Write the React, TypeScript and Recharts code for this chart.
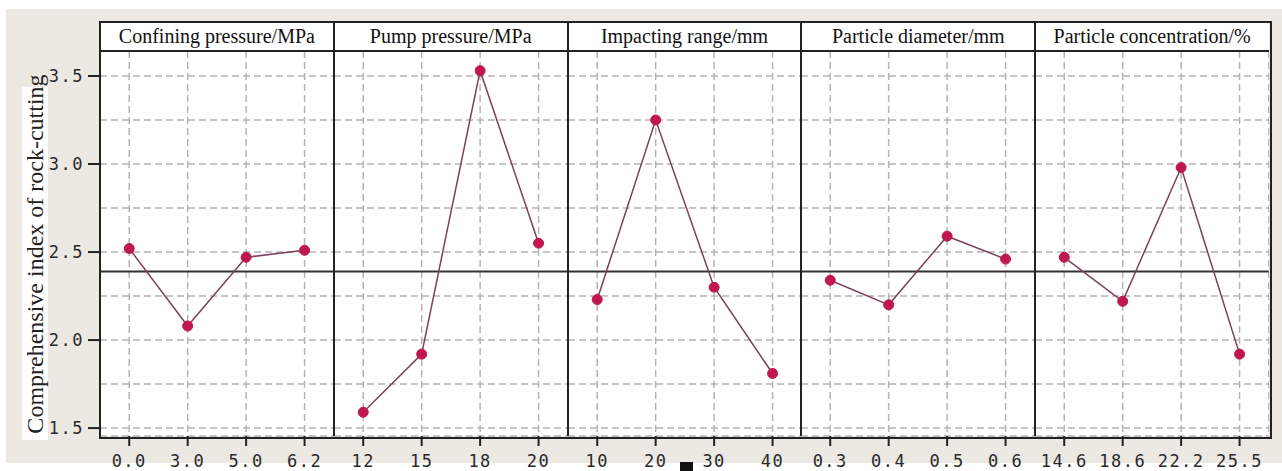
import React from 'react';
import {
  LineChart,
  Line,
  XAxis,
  YAxis,
  CartesianGrid,
  ReferenceLine
} from 'recharts';

// factor names shown in the header row
const panelTitles = [
  'Confining pressure/MPa',
  'Pump pressure/MPa',
  'Impacting range/mm',
  'Particle diameter/mm',
  'Particle concentration/%'
];

// level labels for each factor
const confiningLevels = ['0.0', '3.0', '5.0', '6.2'];
const pumpLevels = ['12', '15', '18', '20'];
const rangeLevels = ['10', '20', '30', '40'];
const diameterLevels = ['0.3', '0.4', '0.5', '0.6'];
const concentrationLevels = ['14.6', '18.6', '22.2', '25.5'];

// comprehensive index means per level
const confiningValues = [2.52, 2.08, 2.47, 2.51];
const pumpValues = [1.59, 1.92, 3.53, 2.55];
const rangeValues = [2.23, 3.25, 2.30, 1.81];
const diameterValues = [2.34, 2.20, 2.59, 2.46];
const concentrationValues = [2.47, 2.22, 2.98, 1.92];

const grandMean = 2.39;
const yTicks = [1.5, 2.0, 2.5, 3.0, 3.5];
const gridTicks = [1.5, 1.75, 2.0, 2.25, 2.5, 2.75, 3.0, 3.25, 3.5];
const yDomain: [number, number] = [1.455, 3.642];

const panels = [
  { title: panelTitles[0], levels: confiningLevels, values: confiningValues },
  { title: panelTitles[1], levels: pumpLevels, values: pumpValues },
  { title: panelTitles[2], levels: rangeLevels, values: rangeValues },
  { title: panelTitles[3], levels: diameterLevels, values: diameterValues },
  { title: panelTitles[4], levels: concentrationLevels, values: concentrationValues }
];

const FRAME_LEFT = 100;
const HEADER_TOP = 22;
const PLOT_TOP = 51;
const PLOT_H = 385;
const PANEL_W = 233.8;
const AXIS_H = 35;
const Y_AXIS_W = 100;

const tickFont = {
  fontFamily: '"DejaVu Sans Mono", monospace',
  fontSize: 17,
  fill: '#2a2a2a',
  letterSpacing: 1.5
};

const Panel = ({ index }: { index: number }) => {
  const p = panels[index];
  const data = p.levels.map((level, i) => ({ i, level, value: p.values[i] }));
  const first = index === 0;
  const width = PANEL_W + (first ? Y_AXIS_W : 0);
  const left = first ? 0 : FRAME_LEFT + index * PANEL_W;

  return (
    <div style={{ position: 'absolute', left, top: PLOT_TOP }}>
      <LineChart
        width={width}
        height={PLOT_H + AXIS_H}
        data={data}
        margin={{ top: 0, right: 0, bottom: 0, left: 0 }}
      >
        <CartesianGrid
          yAxisId="grid"
          stroke="#b4b4b4"
          strokeWidth={1.5}
          strokeDasharray="7 4"
        />
        <XAxis
          type="number"
          dataKey="i"
          domain={[-0.5, 3.5]}
          ticks={[0, 1, 2, 3]}
          tickFormatter={(v: number) => p.levels[v]}
          axisLine={false}
          tickSize={10}
          tickMargin={9}
          tickLine={{ stroke: '#222', strokeWidth: 2 }}
          tick={tickFont}
          height={AXIS_H}
          interval={0}
        />
        <YAxis
          yAxisId="v"
          domain={yDomain}
          ticks={yTicks}
          tickFormatter={(v: number) => v.toFixed(1)}
          hide={!first}
          width={first ? Y_AXIS_W : 0}
          axisLine={false}
          tickSize={12}
          tickMargin={4}
          tickLine={{ stroke: '#222', strokeWidth: 2 }}
          tick={tickFont}
          allowDataOverflow
        />
        <YAxis yAxisId="grid" domain={yDomain} ticks={gridTicks} hide width={0} allowDataOverflow />
        <ReferenceLine yAxisId="v" y={grandMean} stroke="#333" strokeWidth={2} />
        <Line
          yAxisId="v"
          type="linear"
          dataKey="value"
          stroke="#7d3f5e"
          strokeWidth={1.5}
          dot={{ r: 5, fill: '#c0174f', stroke: '#c0174f', strokeWidth: 1 }}
          isAnimationActive={false}
        />
      </LineChart>
    </div>
  );
};

export default function App() {
  const frameW = PANEL_W * 5;
  return (
    <div style={{ position: 'absolute', left: 0, top: 0, width: 1282, height: 471, background: '#fff', overflow: 'hidden' }}>
      <div style={{ position: 'absolute', left: 6, top: 9, width: 1276, height: 454, background: '#ece9e2' }} />
      <div style={{ position: 'absolute', left: FRAME_LEFT, top: HEADER_TOP, width: frameW, height: PLOT_TOP + PLOT_H - HEADER_TOP, background: '#fff' }} />

      {/* y axis title */}
      <div style={{ position: 'absolute', left: 22, top: 87, width: 26, height: 353, background: '#fff' }} />
      <div
        style={{
          position: 'absolute',
          left: 35,
          top: 254,
          transform: 'translate(-50%, -50%) rotate(-90deg)',
          whiteSpace: 'nowrap',
          fontFamily: '"Liberation Serif", serif',
          fontSize: 24,
          color: '#222'
        }}
      >
        Comprehensive index of rock-cutting
      </div>

      {panels.map((_, i) => <Panel key={i} index={i} />)}

      {/* frame, header row and panel dividers */}
      <div style={{ position: 'absolute', left: FRAME_LEFT - 1, top: HEADER_TOP - 1, width: frameW, height: PLOT_TOP + PLOT_H - HEADER_TOP, border: '2px solid #222', pointerEvents: 'none' }} />
      <div style={{ position: 'absolute', left: FRAME_LEFT, top: PLOT_TOP - 1, width: frameW, height: 2, background: '#222' }} />
      {panels.slice(1).map((_, i) => (
        <div key={i} style={{ position: 'absolute', left: FRAME_LEFT + (i + 1) * PANEL_W - 1, top: HEADER_TOP, width: 2, height: PLOT_TOP + PLOT_H - HEADER_TOP, background: '#222' }} />
      ))}
      {panels.map((p, i) => (
        <div
          key={p.title}
          style={{
            position: 'absolute',
            left: FRAME_LEFT + i * PANEL_W,
            top: HEADER_TOP,
            width: PANEL_W,
            height: PLOT_TOP - HEADER_TOP,
            display: 'flex',
            alignItems: 'center',
            justifyContent: 'center',
            fontFamily: '"Liberation Serif", serif',
            fontSize: 20,
            color: '#111'
          }}
        >
          {p.title}
        </div>
      ))}

      <div style={{ position: 'absolute', left: 680, top: 462, width: 13, height: 9, background: '#111' }} />
    </div>
  );
}
